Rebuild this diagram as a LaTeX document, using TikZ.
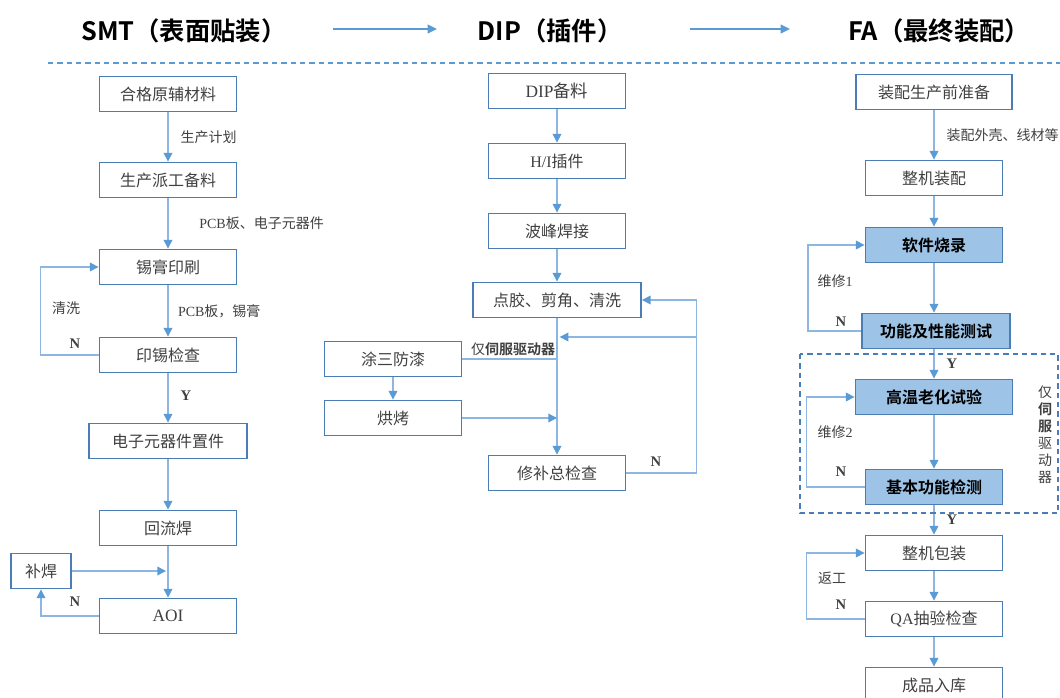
\documentclass[tikz,border=0pt]{standalone}
\usepackage{fontspec}
\setmainfont{Noto Sans CJK SC}[BoldFont={Noto Sans CJK SC Bold}]
\newfontfamily\lat{Liberation Serif}
\usepackage{tikz}
\usetikzlibrary{arrows.meta}
\definecolor{boxline}{HTML}{4A7DB5}
\definecolor{boxfill}{HTML}{9DC3E6}
\definecolor{connblue}{HTML}{8DB6E3}
\definecolor{tipblue}{HTML}{5B9BD5}
\definecolor{txtgray}{HTML}{404040}

\begin{document}
\begin{tikzpicture}[x=0.75pt,y=-0.75pt,
  box/.style={draw=boxline,line width=1.4pt,minimum width=102.75pt,minimum height=26.25pt,inner sep=0pt,text=txtgray,font=\fontsize{12}{14}\selectfont},
  hot/.style={box,fill=boxfill,text=black,font=\fontsize{12}{14}\selectfont\bfseries},
  conn/.style={draw=connblue,line width=1pt,-{Triangle[length=6.5pt,width=6.5pt,color=tipblue]}},
  wire/.style={draw=connblue,line width=1pt},
  lbl/.style={font=\fontsize{10.5}{12}\selectfont,text=txtgray,inner sep=1pt},
  yn/.style={font=\lat\fontsize{11}{12}\selectfont\bfseries,text=txtgray,inner sep=1pt}]
\useasboundingbox (0,0) rectangle (1060,698);
% stage titles
\node[font=\fontsize{19}{22}\selectfont\bfseries] (tsmt) at (184,31) {SMT（表面贴装）};
\node[font=\fontsize{19}{22}\selectfont\bfseries] (tdip) at (550,31) {DIP（插件）};
\node[font=\fontsize{19}{22}\selectfont\bfseries] (tfa) at (939,31) {FA（最终装配）};
\draw[tipblue,line width=1.5pt,-{Triangle[length=7pt,width=6.5pt]}] (333,29) -- (437,29);
\draw[tipblue,line width=1.5pt,-{Triangle[length=7pt,width=6.5pt]}] (690,29) -- (790,29);
\draw[tipblue,line width=1pt,dash pattern=on 4pt off 3pt] (48,63) -- (1060,63);

% SMT column
\node[box] (hege) at (168,94) {合格原辅材料};
\node[box] (paigong) at (168,180) {生产派工备料};
\node[box] (yinshua) at (168,267) {锡膏印刷};
\node[box] (yinxi) at (168,355) {印锡检查};
\node[box,minimum width=118.5pt] (zhijian) at (168,441) {电子元器件置件};
\node[box] (huiliu) at (168,528) {回流焊};
\node[box,font=\lat\fontsize{13}{14}\selectfont] (aoi) at (168,616) {AOI};
\node[box,minimum width=45pt] (buhan) at (41,571) {补焊};
\draw[conn] (hege) -- (paigong) node[lbl,pos=0.5,anchor=west,xshift=8pt] {生产计划};
\draw[conn] (paigong) -- (yinshua) node[lbl,pos=0.5,anchor=west,xshift=22pt] {{\lat PCB}板、电子元器件};
\draw[conn] (yinshua) -- (yinxi) node[lbl,pos=0.5,anchor=west,xshift=6pt] {{\lat PCB}板，锡膏};
\draw[conn] (yinxi) -- (zhijian) node[yn,pos=0.45,anchor=west,xshift=8pt] {Y};
\draw[conn] (zhijian) -- (huiliu);
\draw[conn] (huiliu) -- (aoi);
\draw[conn] (yinxi.west) -- ++(-58,0) |- (yinshua.west);
\node[lbl] (qingxi) at (66,308) {清洗};
\node[yn] (n1) at (75,344) {N};
\draw[conn] (buhan.east) -- ([xshift=-1.5pt]buhan.east -| aoi.north);
\draw[conn] (aoi.west) -| (buhan.south);
\node[yn] (n2) at (75,602) {N};

% DIP column
\node[box,font=\lat\fontsize{13}{14}\selectfont] (dipbl) at (557,91) {DIP\fontspec{Noto Sans CJK SC}备料};
\node[box] (hi) at (557,161) {{\lat H/I}插件};
\node[box] (bofeng) at (557,231) {波峰焊接};
\node[box,minimum width=126pt] (dianjiao) at (557,300) {点胶、剪角、清洗};
\node[box] (tusan) at (393,359) {涂三防漆};
\node[box] (hongkao) at (393,418) {烘烤};
\node[box] (xiubu) at (557,473) {修补总检查};
\draw[conn] (dipbl) -- (hi);
\draw[conn] (hi) -- (bofeng);
\draw[conn] (bofeng) -- (dianjiao);
\draw[conn] (dianjiao) -- (xiubu);
\draw[wire] (tusan.east) -- (tusan.east -| dianjiao.south) node[lbl,anchor=south east,yshift=1pt] {仅{\bfseries 伺服驱动器}};
\draw[conn] (tusan) -- (hongkao);
\draw[conn] (hongkao.east) -- (hongkao.east -| dianjiao.south);
\draw[conn] (xiubu.east) -- ++(70,0) coordinate (nr) |- (dianjiao.east);
\draw[conn] (nr |- 0,337) -- ([xshift=2pt]dianjiao.south |- 0,337);
\node[yn] (n3) at (656,462) {N};

% FA column
\node[box,minimum width=117pt] (zhunbei) at (934,92) {装配生产前准备};
\node[box] (zhengji) at (934,178) {整机装配};
\node[hot] (shaolu) at (934,245) {软件烧录};
\node[hot,minimum width=111pt] (ceshi) at (936,331) {功能及性能测试};
\node[hot,minimum width=117.75pt] (laohua) at (934,397) {高温老化试验};
\node[hot] (jiance) at (934,487) {基本功能检测};
\node[box] (baozhuang) at (934,553) {整机包装};
\node[box] (qa) at (934,619) {{\lat QA}抽验检查};
\node[box] (ruku) at (934,685) {成品入库};
\draw[conn] (zhunbei) -- (zhengji) node[lbl,pos=0.5,anchor=west,xshift=8pt] {装配外壳、线材等};
\draw[conn] (zhengji) -- (shaolu);
\draw[conn] (shaolu) -- (ceshi.north -| shaolu.south);
\draw[conn] (ceshi.south -| laohua.north) -- (laohua) node[yn,pos=0.5,anchor=west,xshift=8pt] {Y};
\draw[conn] (laohua) -- (jiance);
\draw[conn] (jiance) -- (baozhuang) node[yn,pos=0.5,anchor=west,xshift=8pt] {Y};
\draw[conn] (baozhuang) -- (qa);
\draw[conn] (qa) -- (ruku);
\draw[conn] (ceshi.west) -- ++(-53,0) |- (shaolu.west);
\draw[conn] (jiance.west) -- ++(-58,0) |- (laohua.west);
\draw[conn] (qa.west) -- ++(-58,0) |- (baozhuang.west);
\node[lbl] (wx1) at (835,281) {维修{\lat 1}};
\node[yn] (n4) at (841,322) {N};
\node[lbl] (wx2) at (835,432) {维修{\lat 2}};
\node[yn] (n5) at (841,472) {N};
\node[lbl] (fangong) at (832,578) {返工};
\node[yn] (n6) at (841,605) {N};
% servo-only group
\draw[boxline,line width=1pt,dash pattern=on 4pt off 3pt] (800,354) rectangle (1058,513);
\node[lbl,align=center,font=\fontsize{10.5}{12.75}\selectfont] (servo) at (1045,435) {仅\\\textbf{伺}\\\textbf{服}\\驱\\动\\器};
\end{tikzpicture}
\end{document}
